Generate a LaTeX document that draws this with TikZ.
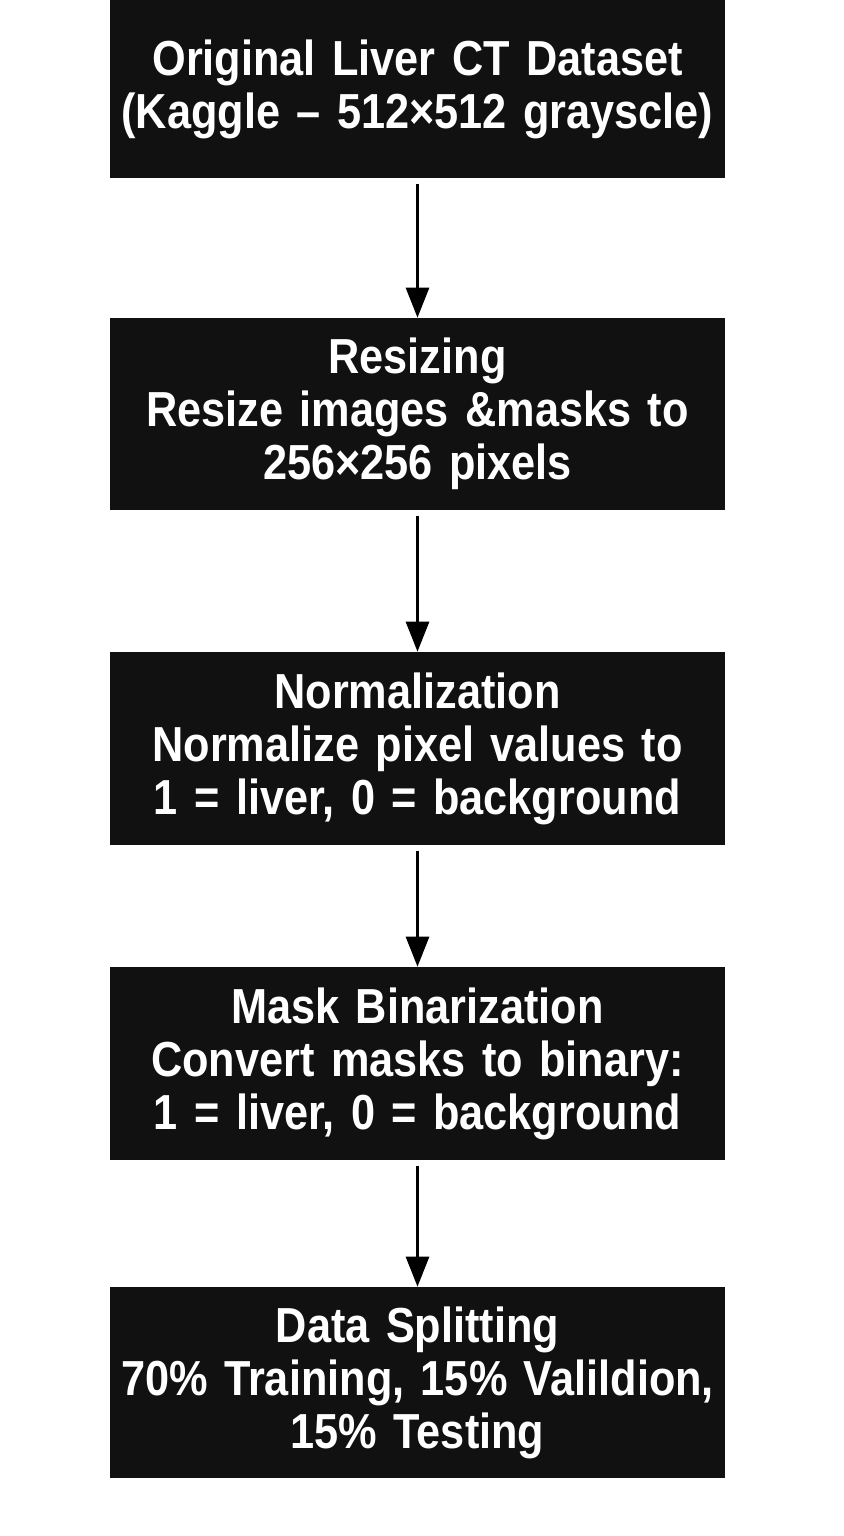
\documentclass[tikz,border=0pt]{standalone}
\usepackage{fontspec}
\setmainfont{Liberation Sans}[FakeStretch=0.88,WordSpace=0.6]
\usepackage{tikz}
\usetikzlibrary{arrows.meta, positioning, calc}
\definecolor{boxblack}{RGB}{17,17,17}

\begin{document}
\begin{tikzpicture}[x=0.02cm,y=0.02cm,
  stagebox/.style={fill=boxblack,text=white,inner sep=0pt,
    minimum width=12.3cm,text width=12.3cm,align=center,
    font=\fontsize{28}{30.2}\selectfont\bfseries},
  flow/.style={-{Triangle[length=0.6cm,width=0.46cm]},line width=1.6pt,shorten <=3pt}]
\useasboundingbox (0,0) rectangle (843,-1536);
\fill[white] (0,0) rectangle (843,-1536);

% Pipeline stages
\node[stagebox,minimum height=3.56cm] (orig) at (417.5,-89)
  {Original Liver CT Dataset\\(Kaggle -- 512×512 grayscle)\\[0.6cm]};
\node[stagebox,minimum height=3.84cm] (resize) at (417.5,-414)
  {Resizing\\Resize images \&masks to\\256×256 pixels};
\node[stagebox,minimum height=3.86cm] (norm) at (417.5,-748.5)
  {Normalization\\Normalize pixel values to\\1 = liver, 0 = background};
\node[stagebox,minimum height=3.86cm] (binar) at (417.5,-1063.5)
  {Mask Binarization\\Convert masks to binary:\\1 = liver, 0 = background};
\node[stagebox,minimum height=3.82cm] (split) at (417.5,-1382.5)
  {Data Splitting\\70\% Training, 15\% Valildion,\\15\% Testing};

% Arrows between stages
\draw[flow] (orig) -- (resize);
\draw[flow] (resize) -- (norm);
\draw[flow] (norm) -- (binar);
\draw[flow] (binar) -- (split);
\end{tikzpicture}
\end{document}
